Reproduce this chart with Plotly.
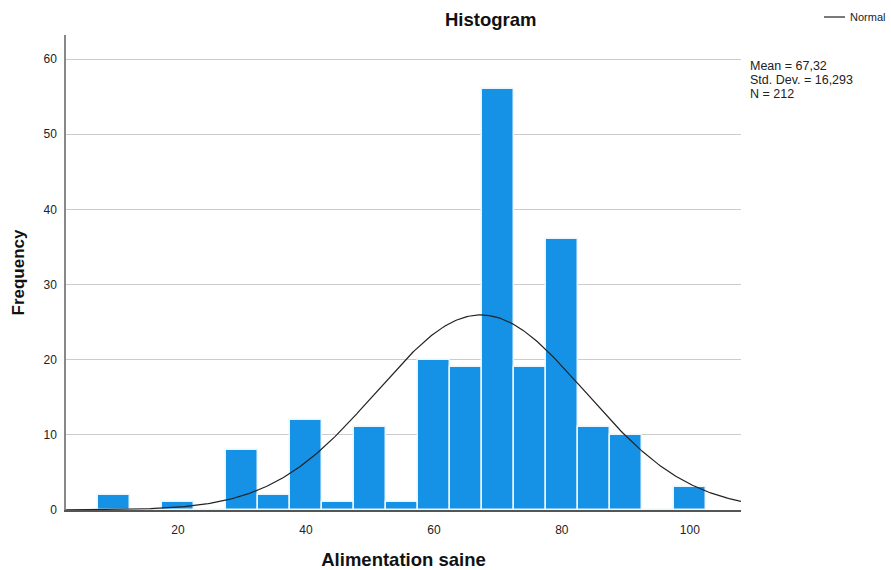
import numpy as np
import plotly.graph_objects as go

# Bin centres (width 5) and counts for "Alimentation saine"
bin_centers = [10, 15, 20, 25, 30, 35, 40, 45, 50, 55, 60, 65, 70, 75, 80, 85, 90, 95, 100]
counts = [2, 0, 1, 0, 8, 2, 12, 1, 11, 1, 20, 19, 56, 19, 36, 11, 10, 0, 3]
bin_width = 5

mean_val = 67.32
std_val = 16.293
n_val = 212
stats_lines = ["Mean = 67,32", "Std. Dev. = 16,293", "N = 212"]

x_ticks = [20, 40, 60, 80, 100]
y_ticks = [0, 10, 20, 30, 40, 50, 60]

FONT = "Arial, Liberation Sans, sans-serif"
W, H = 891, 570
ML, MR, MT, MB = 66, 150, 35, 60
PW, PH = W - ML - MR, H - MT - MB


def px_x(px):
    return (px - ML) / PW


def px_y(py):
    return (H - MB - py) / PH


# Normal curve scaled to the histogram's counts
xs = np.linspace(2.5, 108, 400)
ys = n_val * bin_width * np.exp(-0.5 * ((xs - mean_val) / std_val) ** 2) / (std_val * np.sqrt(2 * np.pi))

fig = go.Figure()
fig.add_trace(go.Bar(
    x=bin_centers, y=counts, width=bin_width,
    marker=dict(color="#1591e6", line=dict(color="rgba(235,245,252,1)", width=1.5)),
    showlegend=False, hoverinfo="x+y",
))
fig.add_trace(go.Scatter(
    x=xs, y=ys, mode="lines", name="Normal", showlegend=False,
    line=dict(color="#222222", width=1.2),
))

annotations = [
    dict(text="<b>Histogram</b>", x=px_x(491), y=px_y(19), xref="paper", yref="paper",
         xanchor="center", yanchor="middle", showarrow=False,
         font=dict(size=18.5, color="#111111")),
    dict(text="Normal", x=px_x(848), y=px_y(17), xref="paper", yref="paper",
         xanchor="left", yanchor="middle", showarrow=False,
         font=dict(size=11, color="#222222")),
]
for i, line in enumerate(stats_lines):
    annotations.append(dict(
        text=line, x=px_x(748), y=px_y(66 + 14 * i), xref="paper", yref="paper",
        xanchor="left", yanchor="middle", showarrow=False,
        font=dict(size=12.5, color="#222222"),
    ))

fig.update_layout(
    width=W, height=H,
    margin=dict(l=ML, r=MR, t=MT, b=MB, autoexpand=False),
    paper_bgcolor="white", plot_bgcolor="white",
    font=dict(family=FONT, size=12, color="#222222"),
    bargap=0,
    showlegend=False,
    xaxis=dict(
        range=[2.5, 108], tickvals=x_ticks, showgrid=False, zeroline=False,
        showline=True, linecolor="#555555", linewidth=1.5, ticks="",
        ticklabelstandoff=8, automargin=False,
        tickfont=dict(size=12, color="#222222"),
        title=dict(text="<b>Alimentation saine</b>", font=dict(size=18.5, color="#111111"), standoff=22),
    ),
    yaxis=dict(
        range=[0, 63.2], tickvals=y_ticks, showgrid=True, gridcolor="#cccccc", gridwidth=1.2,
        zeroline=False, showline=True, linecolor="#888888", linewidth=1.5, ticks="",
        ticklabelstandoff=5, automargin=False,
        tickfont=dict(size=12, color="#222222"),
        title=dict(text="<b>Frequency</b>", font=dict(size=17, color="#111111"), standoff=15),
    ),
    annotations=annotations,
    shapes=[
        # legend key for the normal curve
        dict(type="line", xref="paper", yref="paper",
             x0=px_x(824), x1=px_x(845), y0=px_y(17), y1=px_y(17),
             line=dict(color="#222222", width=1.2)),
    ],
)

fig.write_html("out.html")
